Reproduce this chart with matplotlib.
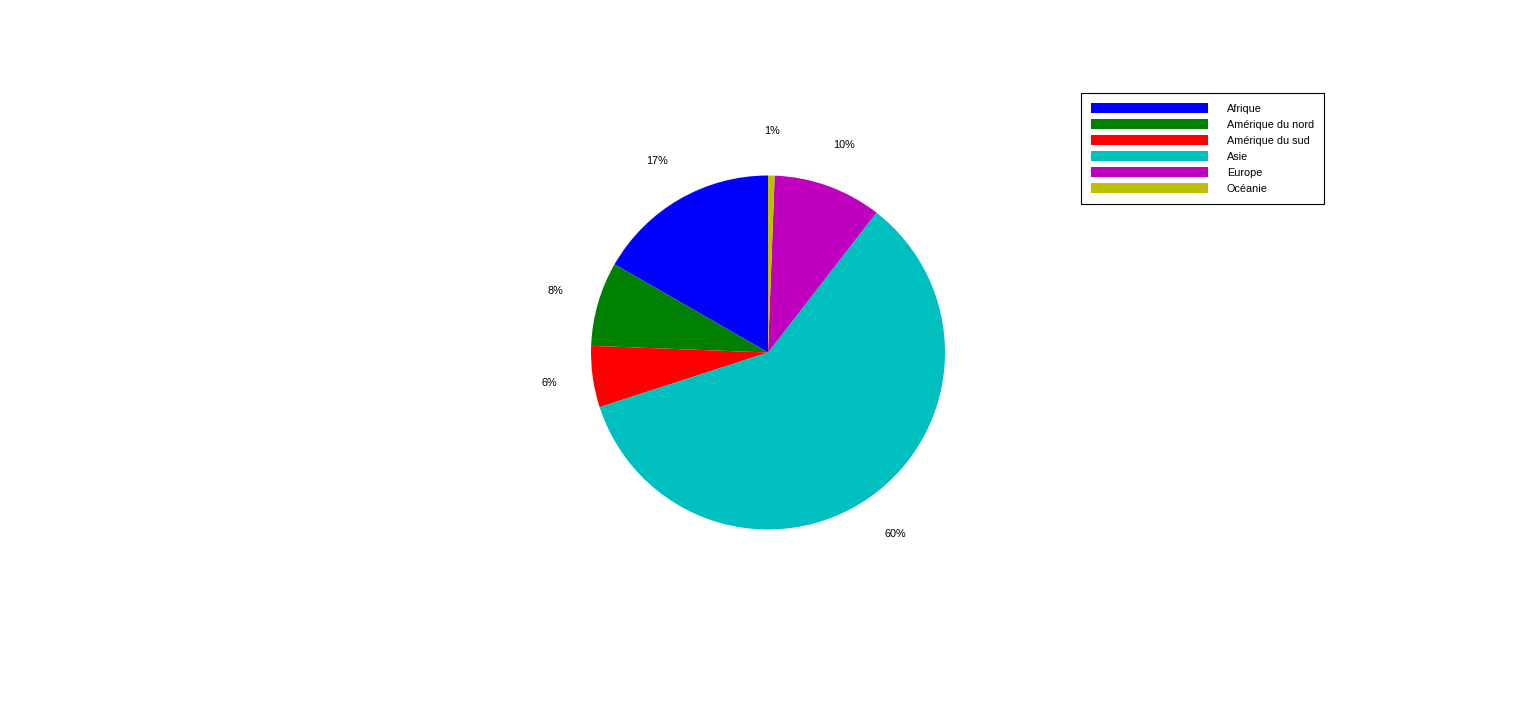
import matplotlib
matplotlib.use('Agg')
import matplotlib.pyplot as plt

# continents et parts (en %)
continents = ['Afrique', 'Amérique du nord', 'Amérique du sud', 'Asie', 'Europe', 'Océanie']
parts = [16.7, 7.7, 5.6, 59.5, 9.9, 0.6]
couleurs = ['#0000ff', '#008000', '#ff0000', '#00bfbf', '#bf00bf', '#bfbf00']

plt.rcParams['font.family'] = ['Liberation Sans', 'DejaVu Sans']

fig = plt.figure(figsize=(15.36, 7.05), dpi=100)
ax = fig.add_axes([(768 - 177) / 1536, (352.5 - 177) / 705, 354 / 1536, 354 / 705])

wedges, texts, autotexts = ax.pie(parts, colors=couleurs, startangle=90,
                                  counterclock=True, autopct='%.0f%%',
                                  pctdistance=1.25, radius=1,
                                  wedgeprops=dict(linewidth=0))
for t in autotexts:
    t.set_fontsize(7.8)
ax.set_xlim(-1, 1)
ax.set_ylim(-1, 1)

leg = fig.legend(wedges, continents, loc='upper left',
                 bbox_to_anchor=(1081 / 1536, 1 - 93 / 705),
                 bbox_transform=fig.transFigure, borderaxespad=0,
                 fontsize=7.8, handlelength=10.8, handleheight=0.95,
                 handletextpad=1.7, labelspacing=0.52, borderpad=0.95,
                 fancybox=False, edgecolor='black', framealpha=1)
leg.get_frame().set_linewidth(0.8)

fig.savefig('out.png', dpi=100)
